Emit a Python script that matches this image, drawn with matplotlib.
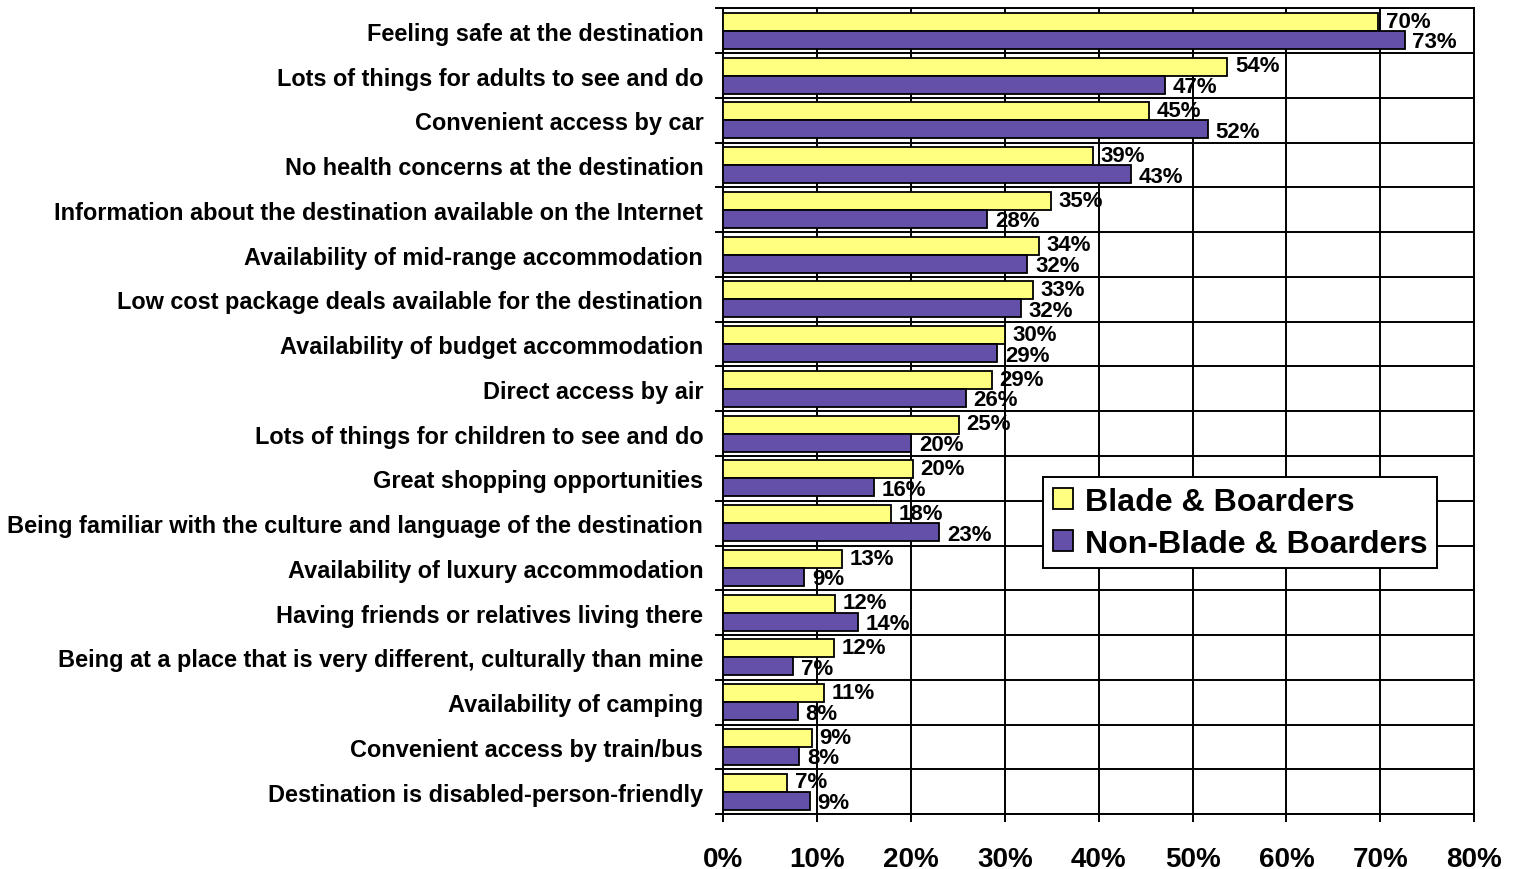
"""
Destination attributes: Blade & Boarders vs Non-Blade & Boarders
"""

import numpy as np
import matplotlib
matplotlib.use('Agg')
import matplotlib.pyplot as plt
from matplotlib.ticker import FixedLocator, FuncFormatter

# ====== fonts ======
plt.rcParams['font.family'] = ['Liberation Sans', 'DejaVu Sans']
plt.rcParams['font.weight'] = 'bold'

# ====== data ======
categories = [
    'Feeling safe at the destination',
    'Lots of things for adults to see and do',
    'Convenient access by car',
    'No health concerns at the destination',
    'Information about the destination available on the Internet',
    'Availability of mid-range accommodation',
    'Low cost package deals available for the destination',
    'Availability of budget accommodation',
    'Direct access by air',
    'Lots of things for children to see and do',
    'Great shopping opportunities',
    'Being familiar with the culture and language of the destination',
    'Availability of luxury accommodation',
    'Having friends or relatives living there',
    'Being at a place that is very different, culturally than mine',
    'Availability of camping',
    'Convenient access by train/bus',
    'Destination is disabled-person-friendly',
]
blade = [69.8, 53.7, 45.4, 39.4, 34.9, 33.6, 33.0, 30.0, 28.6, 25.1,
         20.2, 17.9, 12.6, 11.9, 11.8, 10.7, 9.4, 6.8]
non_blade = [72.6, 47.1, 51.6, 43.4, 28.1, 32.4, 31.7, 29.2, 25.8, 20.0,
             16.0, 23.0, 8.6, 14.3, 7.4, 7.9, 8.1, 9.2]
series_names = ['Blade & Boarders', 'Non-Blade & Boarders']
x_ticks = [0, 10, 20, 30, 40, 50, 60, 70, 80]

# ====== figure ======
fig = plt.figure(figsize=(15.19, 8.70), dpi=100)
ax = fig.add_axes([0.4763, 0.0632, 0.4941, 0.9259])

y = np.arange(len(categories))
h = 0.4
bars1 = ax.barh(y - h / 2, blade, height=h, color='#FFFF80',
                edgecolor='black', linewidth=1.3, label=series_names[0], zorder=3)
bars2 = ax.barh(y + h / 2, non_blade, height=h, color='#6450A8',
                edgecolor='black', linewidth=1.3, label=series_names[1], zorder=3)

# value labels (yellow ones sit a touch higher)
for bars, dy in ((bars1, 0.5), (bars2, -1.5)):
    for bar in bars:
        w = bar.get_width()
        ax.annotate(f'{w:.0f}%', (w, bar.get_y() + bar.get_height() / 2),
                    xytext=(5.5, dy), textcoords='offset points',
                    ha='left', va='center', fontsize=16, fontweight='bold',
                    zorder=4)

# ====== axes ======
ax.set_xlim(0, 80)
ax.set_ylim(len(categories) - 0.5, -0.5)

ax.set_xticks(x_ticks)
ax.xaxis.set_major_formatter(FuncFormatter(lambda v, p: f'{v:.0f}%'))
ax.tick_params(axis='x', direction='out', length=6, width=1.4,
               pad=17, labelsize=20)

ax.set_yticks(y)
ax.set_yticklabels(categories, fontsize=16.9, fontweight='bold')
ax.tick_params(axis='y', which='major', length=0, pad=14.5)
ax.yaxis.set_minor_locator(FixedLocator(np.arange(-0.5, len(categories), 1)))
ax.tick_params(axis='y', which='minor', direction='out', length=6, width=1.4)

ax.grid(axis='x', which='major', color='black', linewidth=1.4, zorder=1)
ax.grid(axis='y', which='minor', color='black', linewidth=1.4, zorder=1)
ax.set_axisbelow(True)
for s in ax.spines.values():
    s.set_linewidth(1.4)
    s.set_color('black')

# ====== legend ======
leg = ax.legend(loc='upper left', bbox_to_anchor=(0.4257, 0.4184),
                borderaxespad=0, fancybox=False, framealpha=1,
                edgecolor='black', handlelength=0.65, handleheight=0.65,
                handletextpad=0.35, borderpad=0.3, labelspacing=0.38,
                prop={'size': 23.1, 'weight': 'bold'})
leg.get_frame().set_linewidth(1.4)
leg.set_zorder(5)

plt.savefig('out.png', dpi=100)
